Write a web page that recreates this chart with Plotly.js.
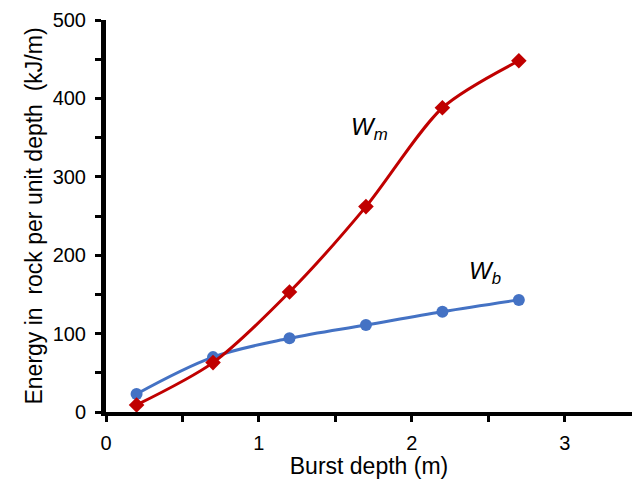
<!DOCTYPE html>
<html>
<head>
<meta charset="utf-8">
<script src="https://cdn.plot.ly/plotly-3.0.1.min.js"></script>
<style>html,body{margin:0;padding:0;background:#fff;}#chart{width:632px;height:479px;}</style>
</head>
<body>
<div id="chart"></div>
<script>
const burstDepth = [0.2, 0.7, 1.2, 1.7, 2.2, 2.7];
const Wm = [9, 63, 153, 262, 388, 448];
const Wb = [23, 70, 94, 111, 128, 143];
const xTitle = "Burst depth (m)";
const yTitle = "Energy in  rock per unit depth  (kJ/m)";

const traces = [
  {x: burstDepth, y: Wb, mode: 'lines+markers', type: 'scatter',
   line: {color: '#4472C4', width: 3, shape: 'spline', smoothing: 1},
   marker: {symbol: 'circle', size: 12, color: '#4472C4'}},
  {x: burstDepth, y: Wm, mode: 'lines+markers', type: 'scatter',
   line: {color: '#C00000', width: 3, shape: 'spline', smoothing: 0.8},
   marker: {symbol: 'diamond', size: 12, color: '#C00000'}}
];

const layout = {
  width: 632, height: 479,
  margin: {l: 106, r: 0, t: 20, b: 67},
  showlegend: false,
  paper_bgcolor: '#ffffff', plot_bgcolor: '#ffffff',
  font: {family: 'Liberation Sans, Arial, sans-serif', color: '#000'},
  xaxis: {
    range: [0, 3.44], dtick: 1, tick0: 0,
    showgrid: false, zeroline: false,
    showline: true, linecolor: 'black', linewidth: 4,
    ticks: 'outside', ticklen: 6, tickwidth: 3, tickcolor: 'black',
    tickfont: {size: 20}, ticklabelstandoff: 4,
    minor: {dtick: 0.5, ticks: 'outside', ticklen: 6, tickwidth: 3, tickcolor: 'black', showgrid: false},
    title: {text: xTitle, font: {size: 23}, standoff: 8}
  },
  yaxis: {
    range: [0, 500], dtick: 100,
    showgrid: false, zeroline: false,
    showline: true, linecolor: 'black', linewidth: 5,
    ticks: 'outside', ticklen: 6, tickwidth: 3, tickcolor: 'black',
    tickfont: {size: 20}, ticklabelstandoff: 5,
    minor: {dtick: 50, ticks: 'outside', ticklen: 6, tickwidth: 3, tickcolor: 'black', showgrid: false},
    title: {text: yTitle, font: {size: 23}, standoff: 5}
  },
  annotations: [
    {x: 1.72, y: 362, xref: 'x', yref: 'y', text: '<i>W</i><sub><i>m</i></sub>', showarrow: false, font: {size: 24}},
    {x: 2.48, y: 178, xref: 'x', yref: 'y', text: '<i>W</i><sub><i>b</i></sub>', showarrow: false, font: {size: 24}}
  ]
};

Plotly.newPlot('chart', traces, layout, {displayModeBar: false});
</script>
</body>
</html>
